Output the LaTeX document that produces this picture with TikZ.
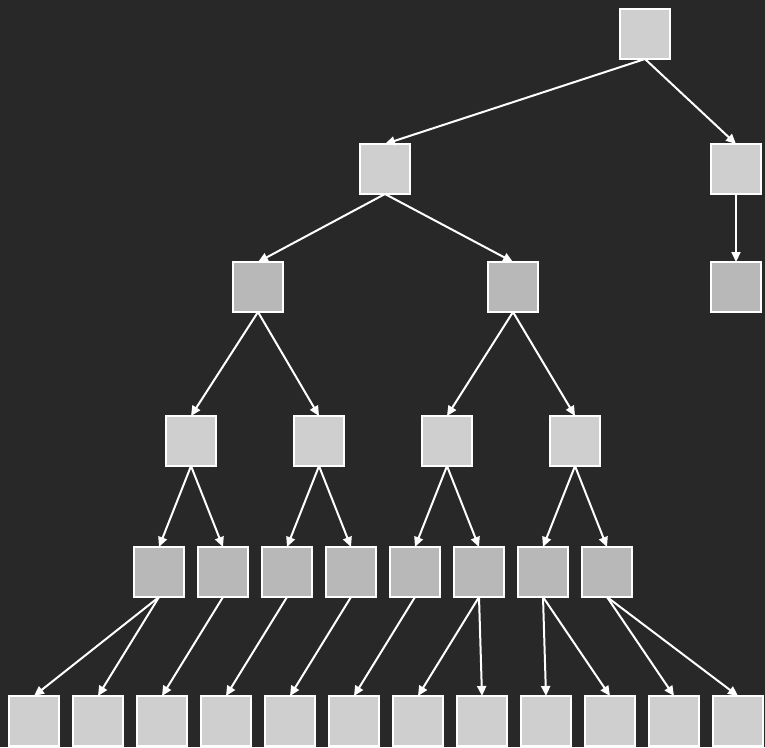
\documentclass[tikz,border=0pt]{standalone}
\usetikzlibrary{arrows.meta}
\definecolor{bgcol}{HTML}{282828}
\definecolor{lightbox}{HTML}{CFCFCF}
\definecolor{darkbox}{HTML}{B8B8B8}
\tikzset{
  box/.style={draw=white, line width=2pt, minimum size=50pt, inner sep=0pt, outer sep=0pt},
  lightnode/.style={box, fill=lightbox},
  darknode/.style={box, fill=darkbox},
  edge/.style={draw=white, line width=2pt, -{Triangle[length=10pt,width=9pt]}}
}
\begin{document}
\begin{tikzpicture}[x=1pt,y=-1pt]
  \fill[bgcol] (0,0) rectangle (765,747);
  \useasboundingbox (0,0) rectangle (765,747);
  % root and first level
  \node[lightnode] (r) at (645,34) {};
  \node[lightnode] (a) at (385,169) {};
  \node[lightnode] (b) at (736,169) {};
  % second level
  \node[darknode] (c) at (258,287) {};
  \node[darknode] (d) at (513,287) {};
  \node[darknode] (e) at (736,287) {};
  % third level
  \node[lightnode] (f1) at (191,441) {};
  \node[lightnode] (f2) at (319,441) {};
  \node[lightnode] (f3) at (447,441) {};
  \node[lightnode] (f4) at (575,441) {};
  % fourth level
  \foreach \i/\x in {1/159,2/223,3/287,4/351,5/415,6/479,7/543,8/607}
    \node[darknode] (g\i) at (\x,572) {};
  % leaves
  \foreach \i/\x in {1/34,2/98,3/162,4/226,5/290,6/354,7/418,8/482,9/546,10/610,11/674,12/738}
    \node[lightnode] (h\i) at (\x,721) {};
  % connectors
  \draw[edge] (r.south) -- (a.north);
  \draw[edge] (r.south) -- (b.north);
  \draw[edge] (a.south) -- (c.north);
  \draw[edge] (a.south) -- (d.north);
  \draw[edge] (b.south) -- (e.north);
  \draw[edge] (c.south) -- (f1.north);
  \draw[edge] (c.south) -- (f2.north);
  \draw[edge] (d.south) -- (f3.north);
  \draw[edge] (d.south) -- (f4.north);
  \draw[edge] (f1.south) -- (g1.north);
  \draw[edge] (f1.south) -- (g2.north);
  \draw[edge] (f2.south) -- (g3.north);
  \draw[edge] (f2.south) -- (g4.north);
  \draw[edge] (f3.south) -- (g5.north);
  \draw[edge] (f3.south) -- (g6.north);
  \draw[edge] (f4.south) -- (g7.north);
  \draw[edge] (f4.south) -- (g8.north);
  \draw[edge] (g1.south) -- (h1.north);
  \draw[edge] (g1.south) -- (h2.north);
  \draw[edge] (g2.south) -- (h3.north);
  \draw[edge] (g3.south) -- (h4.north);
  \draw[edge] (g4.south) -- (h5.north);
  \draw[edge] (g5.south) -- (h6.north);
  \draw[edge] (g6.south) -- (h7.north);
  \draw[edge] (g6.south) -- (h8.north);
  \draw[edge] (g7.south) -- (h9.north);
  \draw[edge] (g7.south) -- (h10.north);
  \draw[edge] (g8.south) -- (h11.north);
  \draw[edge] (g8.south) -- (h12.north);
\end{tikzpicture}
\end{document}
